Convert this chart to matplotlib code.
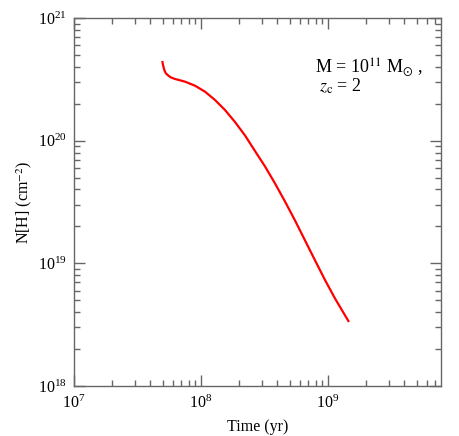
import matplotlib
matplotlib.use("Agg")
import matplotlib.pyplot as plt
import numpy as np
from matplotlib.ticker import LogLocator, LogFormatterMathtext, NullFormatter

plt.rcParams['font.family'] = ['Liberation Serif', 'DejaVu Serif']
plt.rcParams['mathtext.fontset'] = 'stix'

# Data, stored as log10 values
log_time_yr = [7.695, 7.701, 7.711, 7.724, 7.743, 7.764, 7.795, 7.835, 7.874,
               7.953, 8.032, 8.110, 8.189, 8.268, 8.347, 8.425, 8.504, 8.583,
               8.661, 8.740, 8.819, 8.898, 8.976, 9.055, 9.165]
log_n_h = [20.650, 20.617, 20.576, 20.548, 20.530, 20.515, 20.503, 20.492, 20.481,
           20.448, 20.399, 20.332, 20.250, 20.152, 20.042, 19.916, 19.790, 19.651,
           19.505, 19.350, 19.187, 19.024, 18.865, 18.714, 18.522]

x_limits = [1e7, 7.76e9]
y_limits = [1e18, 1e21]
x_label = "Time (yr)"
y_label = r"N[H] (cm$^{-2}$)"
note_1 = r"M = 10$^{11}$ M$_{\odot}$ ,"
note_2 = r"$z_{\rm c}$ = 2"

time_yr = np.power(10.0, log_time_yr)
n_h = np.power(10.0, log_n_h)

W, H = 459, 436
fig = plt.figure(figsize=(W / 100, H / 100), dpi=100)
ax = fig.add_axes([74 / W, 1 - 386 / H, (441 - 74) / W, (386 - 18) / H])

ax.plot(time_yr, n_h, color='#ff0000', lw=1.6, solid_capstyle='butt',
        solid_joinstyle='round')
ax.set_xscale('log')
ax.set_yscale('log')
ax.set_xlim(x_limits)
ax.set_ylim(y_limits)

grey = '#666666'
for s in ax.spines.values():
    s.set_color(grey)
    s.set_linewidth(1.0)

for axis in (ax.xaxis, ax.yaxis):
    axis.set_major_locator(LogLocator(base=10, numticks=10))
    axis.set_minor_locator(LogLocator(base=10, subs=range(2, 10), numticks=20))
    axis.set_major_formatter(LogFormatterMathtext())
    axis.set_minor_formatter(NullFormatter())

ax.tick_params(which='both', direction='in', top=True, right=True, color=grey,
               labelsize=11.5, labelcolor='black')
ax.tick_params(which='major', length=8, width=1.0)
ax.tick_params(which='minor', length=4, width=1.0)
ax.tick_params(axis='y', which='major', pad=5)
ax.tick_params(axis='x', which='major', pad=6)

ax.set_xlabel(x_label, fontsize=11.5, labelpad=5)
ax.set_ylabel(y_label, fontsize=11.5, labelpad=3)

fig.text(315 / W, 1 - 73 / H, note_1, fontsize=13, va='baseline', ha='left')
fig.text(319 / W, 1 - 92 / H, note_2, fontsize=13, va='baseline', ha='left')

fig.savefig('out.png', dpi=100)
